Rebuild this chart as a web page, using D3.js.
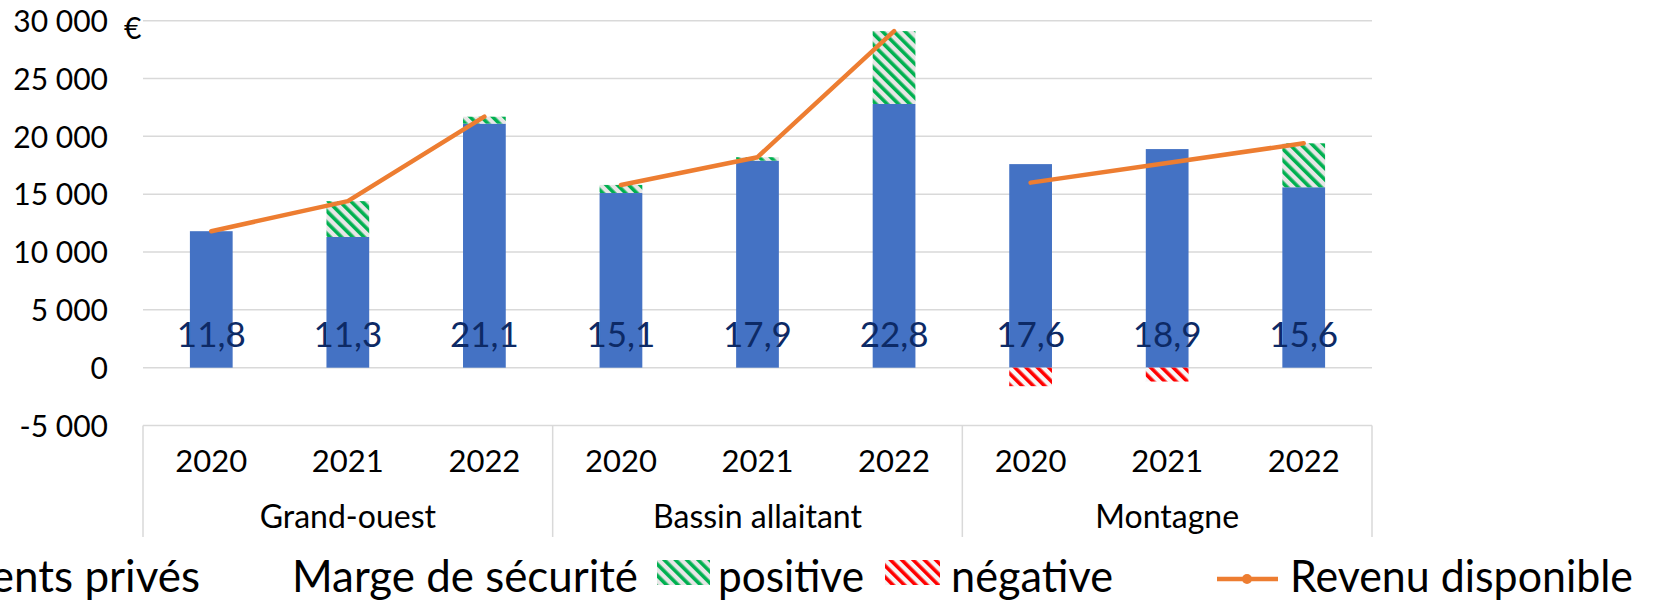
<!DOCTYPE html>
<html><head><meta charset="utf-8">
<script src="https://cdn.jsdelivr.net/npm/d3@7"></script>
<style>body{margin:0;background:#fff;overflow:hidden}svg{display:block}</style>
</head><body>
<script>
const groups = ["Grand-ouest", "Bassin allaitant", "Montagne"];
const years = ["2020", "2021", "2022"];
const prelevements = [11800, 11300, 21100, 15100, 17900, 22800, 17600, 18900, 15600];
const marge = [0, 3100, 600, 700, 300, 6300, -1600, -1200, 3800];
const revenu = [11800, 14400, 21700, 15800, 18200, 29100, 16000, 17700, 19400];
const labels = ["11,8", "11,3", "21,1", "15,1", "17,9", "22,8", "17,6", "18,9", "15,6"];
const yTicks = [-5000, 0, 5000, 10000, 15000, 20000, 25000, 30000];

const W = 1658, H = 601;
const font = "Lato, 'Open Sans', sans-serif";
const svg = d3.select("body").append("svg").attr("width", W).attr("height", H);

const defs = svg.append("defs");
function hatch(id, bg, fg) {
  const p = defs.append("pattern").attr("id", id).attr("patternUnits", "userSpaceOnUse")
    .attr("width", 8).attr("height", 8).attr("patternTransform", "rotate(-45)");
  p.append("rect").attr("width", 8).attr("height", 8).attr("fill", bg);
  p.append("rect").attr("width", 3.6).attr("height", 8).attr("fill", fg);
}
hatch("hatchG", "#E7E6E6", "#00B050");
hatch("hatchR", "#F7F7F7", "#FF0000");

const cats = d3.range(prelevements.length);
const x = d3.scaleBand().domain(cats).range([143, 1372]).paddingInner(0.687).paddingOuter(0.3435);
const y = d3.scaleLinear().domain([-5000, 30000]).range([425.5, 20.7]);

// gridlines
svg.append("g").selectAll("line").data(yTicks.filter(t => t > -5000)).join("line")
  .attr("x1", 143).attr("x2", 1372).attr("y1", d => y(d)).attr("y2", d => y(d))
  .attr("stroke", "#D9D9D9").attr("stroke-width", 1.5);

// y axis labels via d3 axis
const fmt = d => (d < 0 ? "-" : "") + d3.format(",")(Math.abs(d)).replace(/,/g, " ");
const yAxis = svg.append("g").attr("transform", "translate(108,0)")
  .call(d3.axisLeft(y).tickValues(yTicks).tickSize(0).tickPadding(0).tickFormat(fmt));
yAxis.select(".domain").remove();
yAxis.selectAll("text").attr("font-family", font).attr("font-size", 30).attr("fill", "#000").attr("dy", "0.36em");
svg.append("text").attr("x", 124).attr("y", 39).attr("font-family", font).attr("font-size", 30).text("€");

// category axis box
const step = x.step();
const axisG = svg.append("g");
axisG.append("line").attr("x1", 143).attr("x2", 1372).attr("y1", y(-5000)).attr("y2", y(-5000))
  .attr("stroke", "#D9D9D9").attr("stroke-width", 1.5);
[0, 3, 6, 9].forEach(i => {
  const xx = 143 + i * step;
  axisG.append("line").attr("x1", xx).attr("x2", xx).attr("y1", y(-5000)).attr("y2", 537)
    .attr("stroke", "#D9D9D9").attr("stroke-width", 1.5);
});
axisG.selectAll("text.yr").data(cats).join("text").attr("class", "yr")
  .attr("x", d => x(d) + x.bandwidth() / 2).attr("y", 472).attr("text-anchor", "middle")
  .attr("font-family", font).attr("font-size", 31).attr("fill", "#000")
  .text(d => years[d % 3]);
axisG.selectAll("text.gr").data(groups).join("text").attr("class", "gr")
  .attr("x", (d, i) => 143 + (i * 3 + 1.5) * step).attr("y", 528).attr("text-anchor", "middle")
  .attr("font-family", font).attr("font-size", 32).attr("fill", "#000").text(d => d);

// bars
svg.append("g").selectAll("rect").data(cats).join("rect")
  .attr("x", d => x(d)).attr("width", x.bandwidth())
  .attr("y", d => y(prelevements[d])).attr("height", d => y(0) - y(prelevements[d]))
  .attr("fill", "#4472C4");
svg.append("g").selectAll("rect").data(cats.filter(d => marge[d] !== 0)).join("rect")
  .attr("x", d => x(d)).attr("width", x.bandwidth())
  .attr("y", d => marge[d] > 0 ? y(prelevements[d] + marge[d]) : y(0))
  .attr("height", d => marge[d] > 0 ? y(prelevements[d]) - y(prelevements[d] + marge[d]) : y(marge[d]) - y(0))
  .attr("fill", d => marge[d] > 0 ? "url(#hatchG)" : "url(#hatchR)");

// revenue line (one segment per group)
const line = d3.line().x(d => x(d) + x.bandwidth() / 2).y(d => y(revenu[d]));
groups.forEach((g, gi) => {
  svg.append("path").datum([gi * 3, gi * 3 + 1, gi * 3 + 2]).attr("d", line)
    .attr("fill", "none").attr("stroke", "#ED7D31").attr("stroke-width", 4.5)
    .attr("stroke-linecap", "round").attr("stroke-linejoin", "round");
});

// data labels
svg.append("g").selectAll("text").data(cats).join("text")
  .attr("x", d => x(d) + x.bandwidth() / 2).attr("y", 347).attr("text-anchor", "middle")
  .attr("font-family", font).attr("font-size", 35).attr("fill", "#0D2A66").text(d => labels[d]);

// legend
const lg = svg.append("g").attr("font-family", font).attr("font-size", 44).attr("fill", "#000");
const ly = 592;
lg.append("rect").attr("x", -60).attr("y", 560).attr("width", 25).attr("height", 25).attr("fill", "#4472C4");
lg.append("text").attr("x", 200).attr("y", ly).attr("text-anchor", "end").text("Prélèvements privés");
lg.append("text").attr("x", 292).attr("y", ly).attr("textLength", 346).attr("lengthAdjust", "spacingAndGlyphs").text("Marge de sécurité");
lg.append("rect").attr("x", 657).attr("y", 560).attr("width", 53).attr("height", 25).attr("fill", "url(#hatchG)");
lg.append("text").attr("x", 718).attr("y", ly).attr("textLength", 146).attr("lengthAdjust", "spacingAndGlyphs").text("positive");
lg.append("rect").attr("x", 885).attr("y", 560).attr("width", 55).attr("height", 25).attr("fill", "url(#hatchR)");
lg.append("text").attr("x", 951).attr("y", ly).attr("textLength", 162).attr("lengthAdjust", "spacingAndGlyphs").text("négative");
lg.append("line").attr("x1", 1217).attr("x2", 1278).attr("y1", 579).attr("y2", 579)
  .attr("stroke", "#ED7D31").attr("stroke-width", 4.5);
lg.append("circle").attr("cx", 1247).attr("cy", 579).attr("r", 5).attr("fill", "#ED7D31");
lg.append("text").attr("x", 1290).attr("y", ly).attr("textLength", 343).attr("lengthAdjust", "spacingAndGlyphs").text("Revenu disponible");
</script>
</body></html>
